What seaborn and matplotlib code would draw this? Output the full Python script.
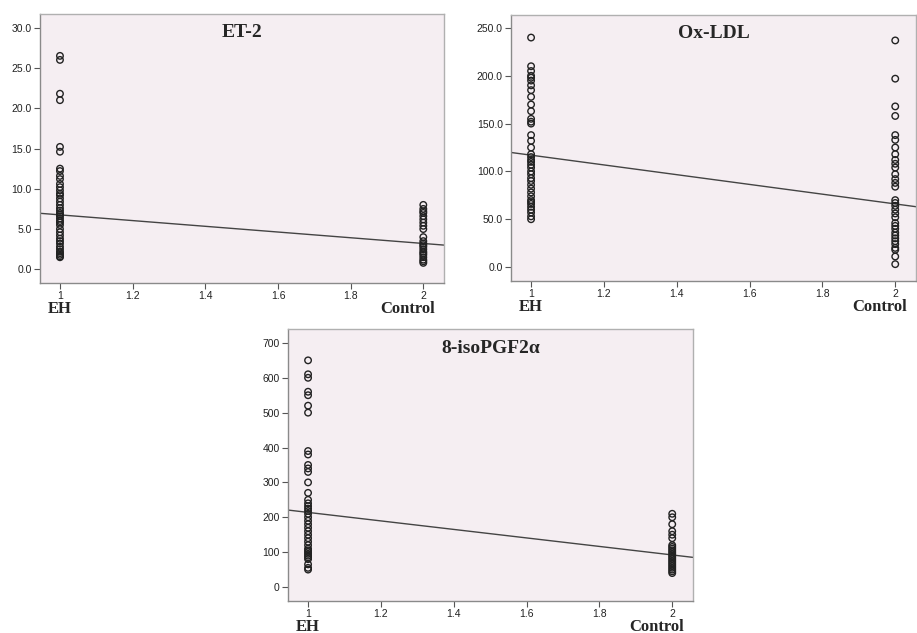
import numpy as np
import pandas as pd
import matplotlib
matplotlib.use("Agg")
import matplotlib.pyplot as plt
import seaborn as sns

# ---------------- data ----------------
panel_titles = ["ET-2", "Ox-LDL", "8-isoPGF2\u03b1"]
group_labels = ["EH", "Control"]
group_codes = [1, 2]

et2_eh = [26.5, 26.0, 21.8, 21.0, 15.2, 14.6, 12.5, 12.2, 11.6, 11.2, 10.6, 10.2,
          9.8, 9.4, 9.2, 8.8, 8.4, 8.0, 7.6, 7.3, 7.0, 6.8, 6.6, 6.3, 6.0, 5.8,
          5.5, 5.0, 4.6, 4.2, 3.8, 3.5, 3.2, 2.8, 2.5, 2.2, 2.0, 1.8, 1.6, 1.5]
et2_ctrl = [8.0, 7.5, 7.2, 7.0, 6.6, 6.2, 5.8, 5.4, 5.0, 4.0, 3.5, 3.2, 3.0, 2.8,
            2.5, 2.2, 2.0, 1.8, 1.5, 1.2, 1.0, 0.8]

oxldl_eh = [240, 210, 205, 200, 198, 195, 190, 185, 178, 170, 163, 155, 152, 150,
            138, 132, 125, 118, 115, 112, 110, 107, 104, 100, 97, 93, 90, 86, 82,
            78, 74, 70, 68, 66, 63, 60, 57, 53, 50]
oxldl_ctrl = [237, 197, 168, 158, 138, 133, 125, 118, 112, 108, 104, 97, 92, 88,
              84, 70, 67, 64, 60, 56, 52, 46, 43, 40, 36, 33, 30, 27, 24, 20, 18,
              11, 3]

iso_eh = [650, 610, 600, 560, 550, 520, 500, 390, 380, 350, 340, 330, 300, 270,
          250, 240, 232, 225, 218, 210, 200, 190, 180, 170, 160, 150, 140, 130,
          120, 110, 105, 100, 95, 90, 85, 80, 65, 55, 50]
iso_ctrl = [210, 200, 180, 160, 150, 140, 120, 115, 110, 105, 100, 95, 90, 85, 80,
            75, 70, 65, 60, 55, 50, 45, 40]

# fitted line values at group 1 (EH) and group 2 (Control)
fit_at_eh = [6.76, 117.0, 214.0]
fit_at_ctrl = [3.21, 66.0, 92.0]

y_ticks = [[0, 5, 10, 15, 20, 25, 30],
           [0, 50, 100, 150, 200, 250],
           [0, 100, 200, 300, 400, 500, 600, 700]]
y_tick_labels = [["0.0", "5.0", "10.0", "15.0", "20.0", "25.0", "30.0"],
                 ["0.0", "50.0", "100.0", "150.0", "200.0", "250.0"],
                 ["0", "100", "200", "300", "400", "500", "600", "700"]]
y_limits = [(-1.7, 31.7), (-14.6, 263.6), (-40, 740)]
x_ticks = [1.0, 1.2, 1.4, 1.6, 1.8, 2.0]
x_tick_labels = ["1", "1.2", "1.4", "1.6", "1.8", "2"]

series = [(et2_eh, et2_ctrl), (oxldl_eh, oxldl_ctrl), (iso_eh, iso_ctrl)]

# ---------------- figure ----------------
sns.set_style("white")
plt.rcParams["font.family"] = ["Liberation Sans", "DejaVu Sans"]

fig = plt.figure(figsize=(9.17, 6.33), dpi=100)
positions = [[0.0436, 0.5529, 0.4406, 0.4250],
             [0.5573, 0.5561, 0.4416, 0.4202],
             [0.3141, 0.0506, 0.4416, 0.4297]]

bg = "#f5eef2"
label_dx = [0, -11]  # points: "Control" sits slightly left of its tick
for i in range(3):
    ax = fig.add_axes(positions[i])
    eh, ctrl = series[i]
    df = pd.DataFrame({
        "group": [group_codes[0]] * len(eh) + [group_codes[1]] * len(ctrl),
        "value": list(eh) + list(ctrl),
    })
    ax.set_facecolor(bg)
    sns.scatterplot(data=df, x="group", y="value", ax=ax, marker="o", s=22,
                    facecolors="none", edgecolor="#222222", linewidth=1.0,
                    zorder=3)
    ax.axline((group_codes[0], fit_at_eh[i]), (group_codes[1], fit_at_ctrl[i]),
              color="#444444", linewidth=1.0, zorder=2)
    ax.set_xlim(0.945, 2.057)
    ax.set_ylim(*y_limits[i])
    ax.set_xticks(x_ticks)
    ax.set_xticklabels(x_tick_labels, fontsize=7.5, color="#222222")
    ax.set_yticks(y_ticks[i])
    ax.set_yticklabels(y_tick_labels[i], fontsize=7.5, color="#222222")
    ax.tick_params(axis="both", which="both", direction="out", length=4,
                   width=0.8, color="#555555", pad=2,
                   left=True, bottom=True, right=False, top=False)
    ax.set_xlabel("")
    ax.set_ylabel("")
    for side, sp in ax.spines.items():
        sp.set_visible(True)
        sp.set_linewidth(1.0)
        sp.set_color("#8a8a8a" if side in ("left", "bottom") else "#b0b0b0")
    ax.text(0.5, 0.93, panel_titles[i], transform=ax.transAxes,
            ha="center", va="center", fontsize=14, fontweight="bold",
            family=["Liberation Serif", "DejaVu Serif"])
    # group labels under the axis
    for code, lab, dx in zip(group_codes, group_labels, label_dx):
        ax.annotate(lab, xy=(code, 0), xycoords=("data", "axes fraction"),
                    xytext=(dx, -18.5), textcoords="offset points",
                    ha="center", va="center", fontsize=12, fontweight="bold",
                    family=["Liberation Serif", "DejaVu Serif"],
                    annotation_clip=False)

fig.savefig("out.png", dpi=100, facecolor="white")
